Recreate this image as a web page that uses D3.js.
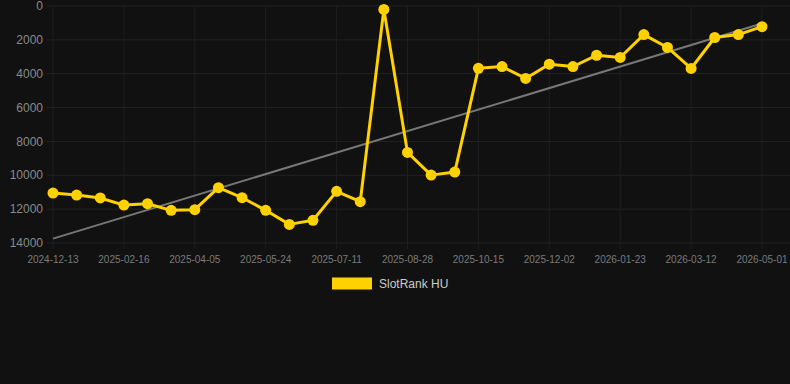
<!DOCTYPE html>
<html>
<head>
<meta charset="utf-8">
<script src="https://cdn.jsdelivr.net/npm/d3@7"></script>
<style>
  html, body { margin: 0; padding: 0; background: #111111; }
  svg { display: block; font-family: Arial, "Liberation Sans", sans-serif; }
</style>
</head>
<body>
<svg id="chart"></svg>
<script>
// categories (every 3rd one is labelled on the axis)
const dates = [
  "2024-12-13", "2024-12-29", "2025-01-14", "2025-02-16", "2025-03-04", "2025-03-20",
  "2025-04-05", "2025-04-21", "2025-05-07", "2025-05-24", "2025-06-08", "2025-06-24",
  "2025-07-11", "2025-07-27", "2025-08-12", "2025-08-28", "2025-09-13", "2025-09-29",
  "2025-10-15", "2025-10-31", "2025-11-16", "2025-12-02", "2025-12-19", "2026-01-05",
  "2026-01-23", "2026-02-08", "2026-02-24", "2026-03-12", "2026-03-28", "2026-04-14",
  "2026-05-01"
];
const ranks = [
  11050, 11170, 11340, 11760, 11680, 12070, 12030, 10730, 11320, 12070, 12900, 12660,
  10950, 11560, 200, 8650, 9990, 9810, 3680, 3580, 4280, 3440, 3580, 2910,
  3040, 1690, 2450, 3690, 1860, 1690, 1220
];
const yTicks = [0, 2000, 4000, 6000, 8000, 10000, 12000, 14000];
const seriesName = "SlotRank HU";

const W = 790, H = 384;
const M = { left: 53, right: 762, top: 6, bottom: 243 };
const gold = "#FFD100";

const svg = d3.select("#chart").attr("width", W).attr("height", H);

const x = d3.scalePoint().domain(dates).range([M.left, M.right]);
const y = d3.scaleLinear().domain([0, 14000]).range([M.top, M.bottom]);

// grid
svg.append("g")
  .selectAll("line")
  .data(yTicks)
  .join("line")
  .attr("x1", M.left - 6).attr("x2", W)
  .attr("y1", d => y(d)).attr("y2", d => y(d))
  .attr("stroke", "#222").attr("stroke-width", 1);

const labelled = dates.filter((d, i) => i % 3 === 0);
svg.append("g")
  .selectAll("line")
  .data(labelled)
  .join("line")
  .attr("x1", d => x(d)).attr("x2", d => x(d))
  .attr("y1", M.top).attr("y2", M.bottom + 6)
  .attr("stroke", "#1e1e1e").attr("stroke-width", 1);

// y axis labels
svg.append("g")
  .selectAll("text")
  .data(yTicks)
  .join("text")
  .attr("x", 43)
  .attr("y", d => y(d))
  .attr("dy", "0.35em")
  .attr("text-anchor", "end")
  .attr("fill", "#8a8a8a")
  .attr("font-size", 12)
  .text(d => d);

// x axis labels
svg.append("g")
  .selectAll("text")
  .data(labelled)
  .join("text")
  .attr("x", d => x(d))
  .attr("y", 259)
  .attr("dy", "0.35em")
  .attr("text-anchor", "middle")
  .attr("fill", "#7a7a7a")
  .attr("font-size", 10)
  .text(d => d);

// trend line (least squares over the points)
const n = ranks.length;
const mi = (n - 1) / 2;
const mv = d3.mean(ranks);
const slope = d3.sum(ranks, (v, i) => (i - mi) * (v - mv)) / d3.sum(ranks, (v, i) => (i - mi) * (i - mi));
const fit = i => mv + slope * (i - mi);
svg.append("line")
  .attr("x1", x(dates[0])).attr("y1", y(fit(0)))
  .attr("x2", x(dates[n - 1])).attr("y2", y(fit(n - 1)))
  .attr("stroke", "#777").attr("stroke-width", 2);

// series
const line = d3.line().x((d, i) => x(dates[i])).y(d => y(d));
svg.append("path")
  .datum(ranks)
  .attr("d", line)
  .attr("fill", "none")
  .attr("stroke", gold)
  .attr("stroke-width", 3)
  .attr("stroke-linejoin", "round");

svg.append("g")
  .selectAll("circle")
  .data(ranks)
  .join("circle")
  .attr("cx", (d, i) => x(dates[i]))
  .attr("cy", d => y(d))
  .attr("r", 5.5)
  .attr("fill", gold);

// legend
const lg = svg.append("g");
lg.append("rect")
  .attr("x", 332).attr("y", 277.5)
  .attr("width", 40).attr("height", 12)
  .attr("fill", gold);
lg.append("text")
  .attr("x", 379).attr("y", 284)
  .attr("dy", "0.35em")
  .attr("fill", "#cccccc")
  .attr("font-size", 12)
  .text(seriesName);
</script>
</body>
</html>
